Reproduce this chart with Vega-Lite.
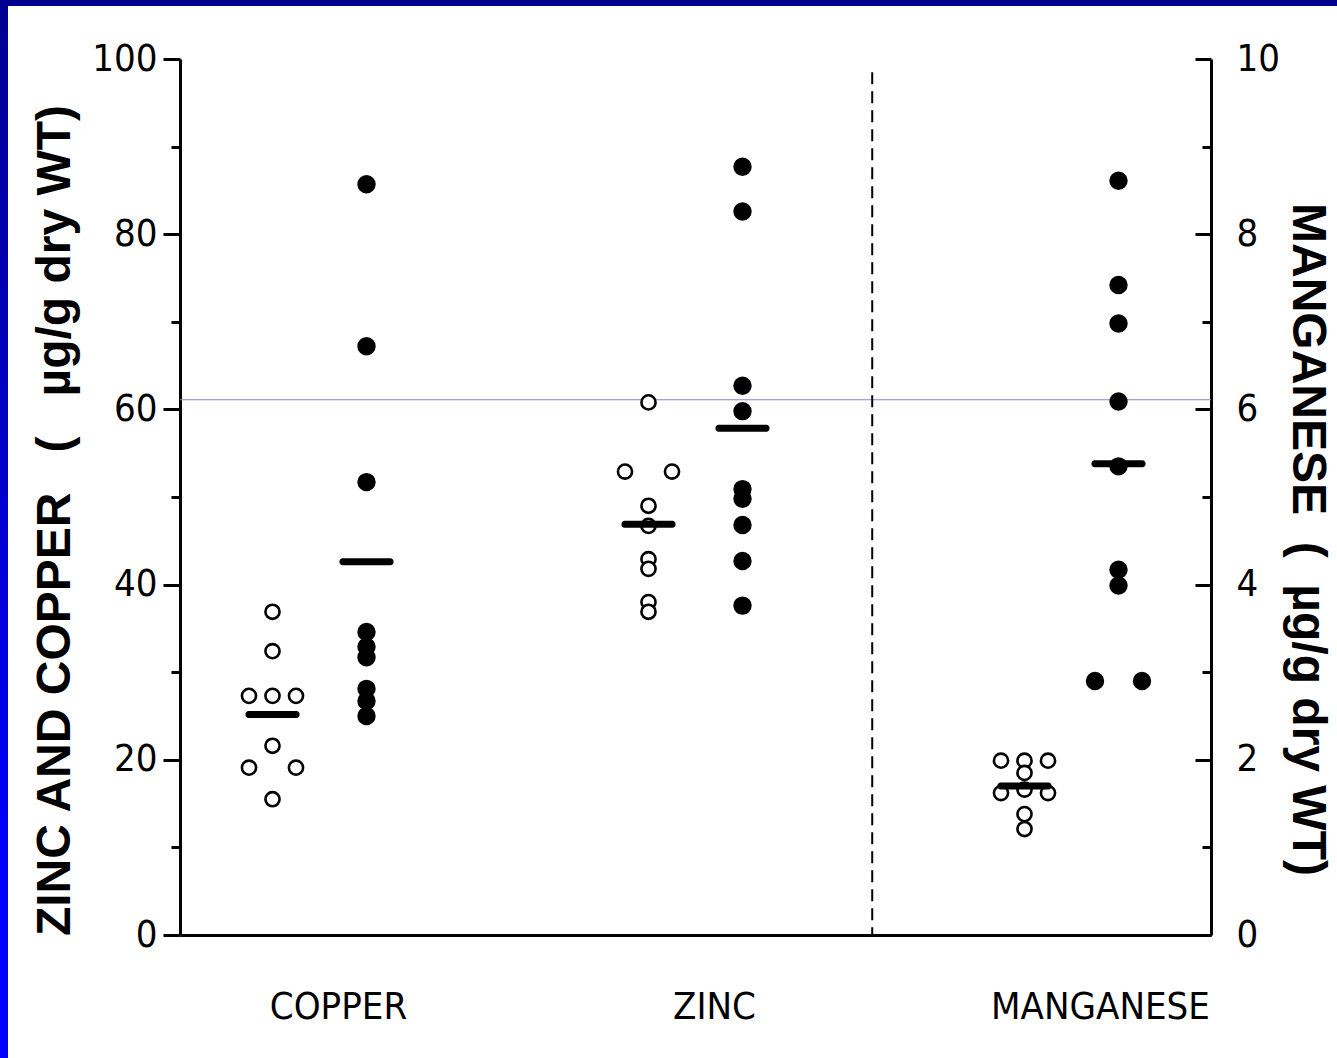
{
  "$schema": "https://vega.github.io/schema/vega-lite/v6.json",
  "background": "white",
  "padding": 0,
  "config": {"view": {"stroke": null}, "axis": {"grid": false}},
  "datasets": {
    "metals": [
      {"metal": "Copper", "group": "control", "set": "Copper control", "col": "C", "value": 36.9},
      {"metal": "Copper", "group": "control", "set": "Copper control", "col": "C", "value": 32.4},
      {"metal": "Copper", "group": "control", "set": "Copper control", "col": "L", "value": 27.3},
      {"metal": "Copper", "group": "control", "set": "Copper control", "col": "C", "value": 27.3},
      {"metal": "Copper", "group": "control", "set": "Copper control", "col": "R", "value": 27.3},
      {"metal": "Copper", "group": "control", "set": "Copper control", "col": "C", "value": 21.6},
      {"metal": "Copper", "group": "control", "set": "Copper control", "col": "L", "value": 19.1},
      {"metal": "Copper", "group": "control", "set": "Copper control", "col": "R", "value": 19.1},
      {"metal": "Copper", "group": "control", "set": "Copper control", "col": "C", "value": 15.5},
      {"metal": "Copper", "group": "treated", "set": "Copper treated", "col": "C", "value": 85.7},
      {"metal": "Copper", "group": "treated", "set": "Copper treated", "col": "C", "value": 67.2},
      {"metal": "Copper", "group": "treated", "set": "Copper treated", "col": "C", "value": 51.7},
      {"metal": "Copper", "group": "treated", "set": "Copper treated", "col": "C", "value": 34.6},
      {"metal": "Copper", "group": "treated", "set": "Copper treated", "col": "C", "value": 32.9},
      {"metal": "Copper", "group": "treated", "set": "Copper treated", "col": "C", "value": 31.7},
      {"metal": "Copper", "group": "treated", "set": "Copper treated", "col": "C", "value": 28.1},
      {"metal": "Copper", "group": "treated", "set": "Copper treated", "col": "C", "value": 26.7},
      {"metal": "Copper", "group": "treated", "set": "Copper treated", "col": "C", "value": 25.0},
      {"metal": "Zinc", "group": "control", "set": "Zinc control", "col": "C", "value": 60.8},
      {"metal": "Zinc", "group": "control", "set": "Zinc control", "col": "L", "value": 52.9},
      {"metal": "Zinc", "group": "control", "set": "Zinc control", "col": "R", "value": 52.9},
      {"metal": "Zinc", "group": "control", "set": "Zinc control", "col": "C", "value": 49.0},
      {"metal": "Zinc", "group": "control", "set": "Zinc control", "col": "C", "value": 46.7},
      {"metal": "Zinc", "group": "control", "set": "Zinc control", "col": "C", "value": 42.9},
      {"metal": "Zinc", "group": "control", "set": "Zinc control", "col": "C", "value": 41.8},
      {"metal": "Zinc", "group": "control", "set": "Zinc control", "col": "C", "value": 38.0},
      {"metal": "Zinc", "group": "control", "set": "Zinc control", "col": "C", "value": 36.9},
      {"metal": "Zinc", "group": "treated", "set": "Zinc treated", "col": "C", "value": 87.7},
      {"metal": "Zinc", "group": "treated", "set": "Zinc treated", "col": "C", "value": 82.6},
      {"metal": "Zinc", "group": "treated", "set": "Zinc treated", "col": "C", "value": 62.7},
      {"metal": "Zinc", "group": "treated", "set": "Zinc treated", "col": "C", "value": 59.8},
      {"metal": "Zinc", "group": "treated", "set": "Zinc treated", "col": "C", "value": 50.9},
      {"metal": "Zinc", "group": "treated", "set": "Zinc treated", "col": "C", "value": 49.8},
      {"metal": "Zinc", "group": "treated", "set": "Zinc treated", "col": "C", "value": 46.8},
      {"metal": "Zinc", "group": "treated", "set": "Zinc treated", "col": "C", "value": 42.7},
      {"metal": "Zinc", "group": "treated", "set": "Zinc treated", "col": "C", "value": 37.6},
      {"metal": "Manganese", "group": "control", "set": "Manganese control", "col": "L", "value": 1.99},
      {"metal": "Manganese", "group": "control", "set": "Manganese control", "col": "C", "value": 1.99},
      {"metal": "Manganese", "group": "control", "set": "Manganese control", "col": "R", "value": 1.99},
      {"metal": "Manganese", "group": "control", "set": "Manganese control", "col": "C", "value": 1.85},
      {"metal": "Manganese", "group": "control", "set": "Manganese control", "col": "C", "value": 1.66},
      {"metal": "Manganese", "group": "control", "set": "Manganese control", "col": "L", "value": 1.62},
      {"metal": "Manganese", "group": "control", "set": "Manganese control", "col": "R", "value": 1.62},
      {"metal": "Manganese", "group": "control", "set": "Manganese control", "col": "C", "value": 1.38},
      {"metal": "Manganese", "group": "control", "set": "Manganese control", "col": "C", "value": 1.21},
      {"metal": "Manganese", "group": "treated", "set": "Manganese treated", "col": "C", "value": 8.61},
      {"metal": "Manganese", "group": "treated", "set": "Manganese treated", "col": "C", "value": 7.42},
      {"metal": "Manganese", "group": "treated", "set": "Manganese treated", "col": "C", "value": 6.98},
      {"metal": "Manganese", "group": "treated", "set": "Manganese treated", "col": "C", "value": 6.09},
      {"metal": "Manganese", "group": "treated", "set": "Manganese treated", "col": "C", "value": 5.35},
      {"metal": "Manganese", "group": "treated", "set": "Manganese treated", "col": "C", "value": 4.17},
      {"metal": "Manganese", "group": "treated", "set": "Manganese treated", "col": "C", "value": 3.99},
      {"metal": "Manganese", "group": "treated", "set": "Manganese treated", "col": "L", "value": 2.90},
      {"metal": "Manganese", "group": "treated", "set": "Manganese treated", "col": "R", "value": 2.90}
    ]
  },
  "columns": 2,
  "spacing": 0,
  "align": "none",
  "bounds": "full",
  "concat": [
    {
      "width": 31,
      "height": 6,
      "data": {"values": [{"strip": "top-left"}]},
      "view": {"fill": "#000090", "stroke": null},
      "mark": {"type": "rect", "color": "#000090"}
    },
    {
      "width": 1306,
      "height": 6,
      "data": {"values": [{"strip": "top"}]},
      "view": {"fill": "#000090", "stroke": null},
      "mark": {"type": "rect", "color": "#000090"}
    },
    {
      "width": 8,
      "height": 1052,
      "data": {"values": [{"strip": "left"}]},
      "view": {"fill": "#0000c8", "stroke": null},
      "mark": {
        "type": "rect",
        "fill": {"gradient": "linear", "x1": 0, "y1": 0, "x2": 0, "y2": 1, "stops": [{"offset": 0, "color": "#000090"}, {"offset": 0.85, "color": "#0000ff"}, {"offset": 1, "color": "#0000ff"}]}
      }
    },
    {
      "width": 1031,
      "height": 876,
      "title": {"text": "\u00a0", "fontSize": 10, "offset": 24},
      "data": {"name": "metals"},
      "layer": [
        {
          "transform": [{"filter": "datum.metal !== 'Manganese'"}],
          "layer": [
            {
              "data": {"values": [{"line": "scan"}]},
              "mark": {"type": "rule", "color": "#8585cc", "strokeWidth": 1},
              "encoding": {"y": {"datum": 61.1, "type": "quantitative", "scale": {"domain": [0, 100], "nice": false}}}
            },
            {
              "data": {"values": [{"line": "divider"}]},
              "mark": {"type": "rule", "color": "black", "strokeWidth": 2, "strokeDash": [12, 7]},
              "encoding": {
                "x": {"datum": "g3", "type": "nominal", "bandPosition": 0.88},
                "y": {"datum": 98.5, "type": "quantitative", "scale": {"domain": [0, 100], "nice": false}},
                "y2": {"datum": 0}
              }
            },
            {
              "mark": {"type": "circle", "stroke": "black", "strokeWidth": 2.6, "opacity": 1},
              "encoding": {
                "x": {
                  "field": "set", "type": "nominal",
                  "scale": {"domain": ["Copper control", "Copper treated", "g1", "g2", "Zinc control", "Zinc treated", "g3", "g4", "Manganese control", "Manganese treated"], "paddingInner": 0, "paddingOuter": 0.484},
                  "axis": {
                    "title": null, "ticks": false, "domainColor": "black", "domainWidth": 3,
                    "labelExpr": "datum.value === 'Copper treated' ? 'COPPER' : datum.value === 'Zinc treated' ? 'ZINC' : datum.value === 'Manganese treated' ? 'MANGANESE' : ''",
                    "labelFont": "DejaVu Sans Condensed, Liberation Sans Narrow, Liberation Sans",
                    "labelFontSize": 38, "labelColor": "black", "labelPadding": 72, "labelAngle": 0,
                    "labelAlign": "center", "labelLimit": 0,
                    "labelOverlap": false,
                    "labelOffset": {"condition": {"test": "datum.value === 'Manganese treated'", "value": -18}, "value": -28}
                  }
                },
                "xOffset": {"field": "col", "type": "nominal", "scale": {"type": "point", "domain": ["L", "C", "R"], "padding": 1.4737}},
                "y": {
                  "field": "value", "type": "quantitative",
                  "scale": {"domain": [0, 100], "nice": false},
                  "axis": {
                    "orient": "left",
                    "values": [0, 10, 20, 30, 40, 50, 60, 70, 80, 90, 100],
                    "labelExpr": "datum.value % 20 === 0 ? format(datum.value, 'd') : ''",
                    "tickSize": 17, "tickWidth": 3, "tickColor": "black",
                    "tickDash": {"condition": {"test": "datum.value % 20 !== 0", "value": [9, 40]}, "value": []},
                    "domainWidth": 3, "domainColor": "black",
                    "labelFont": "DejaVu Sans Condensed, Liberation Sans Narrow, Liberation Sans",
                    "labelFontSize": 38, "labelColor": "black", "labelPadding": 6,
                    "labelFlush": false, "labelOverlap": false,
                    "title": "ZINC AND COPPER\u00a0\u00a0\u00a0(\u00a0\u00a0\u00a0µg/g dry WT)",
                    "titleFont": "Liberation Sans", "titleFontWeight": "bold", "titleFontSize": 48,
                    "titleColor": "black", "titlePadding": 12, "titleY": 461
                  }
                },
                "fill": {"field": "group", "type": "nominal", "scale": {"domain": ["control", "treated"], "range": ["white", "black"]}, "legend": null},
                "size": {"field": "group", "type": "ordinal", "scale": {"domain": ["control", "treated"], "range": [200, 250]}, "legend": null}
              }
            },
            {
              "mark": {"type": "tick", "orient": "horizontal", "size": 54, "thickness": 7, "color": "black", "opacity": 1, "cornerRadius": 3},
              "encoding": {
                "x": {"field": "set", "type": "nominal"},
                "y": {"aggregate": "mean", "field": "value", "type": "quantitative", "scale": {"domain": [0, 100], "nice": false}}
              }
            }
          ]
        },
        {
          "transform": [{"filter": "datum.metal === 'Manganese'"}],
          "layer": [
            {
              "mark": {"type": "circle", "stroke": "black", "strokeWidth": 2.6, "opacity": 1},
              "encoding": {
                "x": {"field": "set", "type": "nominal"},
                "xOffset": {"field": "col", "type": "nominal", "scale": {"type": "point", "domain": ["L", "C", "R"], "padding": 1.4737}},
                "y": {
                  "field": "value", "type": "quantitative",
                  "scale": {"domain": [0, 10], "nice": false},
                  "axis": {
                    "orient": "right",
                    "values": [0, 1, 2, 3, 4, 5, 6, 7, 8, 9, 10],
                    "labelExpr": "datum.value % 2 === 0 ? format(datum.value, 'd') : ''",
                    "tickSize": -16, "tickWidth": 3, "tickColor": "black",
                    "tickDash": {"condition": {"test": "datum.value % 2 !== 0", "value": [9, 40]}, "value": []},
                    "domainWidth": 3, "domainColor": "black",
                    "labelFont": "DejaVu Sans Condensed, Liberation Sans Narrow, Liberation Sans",
                    "labelFontSize": 38, "labelColor": "black", "labelPadding": 41,
                    "labelFlush": false, "labelOverlap": false,
                    "title": "MANGANESE\u00a0\u00a0(\u00a0\u00a0µg/g dry WT)",
                    "titleFont": "Liberation Sans", "titleFontWeight": "bold", "titleFontSize": 48,
                    "titleColor": "black", "titlePadding": 3, "titleY": 480
                  }
                },
                "fill": {"field": "group", "type": "nominal", "scale": {"domain": ["control", "treated"], "range": ["white", "black"]}, "legend": null},
                "size": {"field": "group", "type": "ordinal", "scale": {"domain": ["control", "treated"], "range": [200, 250]}, "legend": null}
              }
            },
            {
              "mark": {"type": "tick", "orient": "horizontal", "size": 54, "thickness": 7, "color": "black", "opacity": 1, "cornerRadius": 3},
              "encoding": {
                "x": {"field": "set", "type": "nominal"},
                "y": {"aggregate": "mean", "field": "value", "type": "quantitative", "scale": {"domain": [0, 10], "nice": false}}
              }
            }
          ]
        }
      ],
      "resolve": {"scale": {"y": "independent"}}
    }
  ]
}
